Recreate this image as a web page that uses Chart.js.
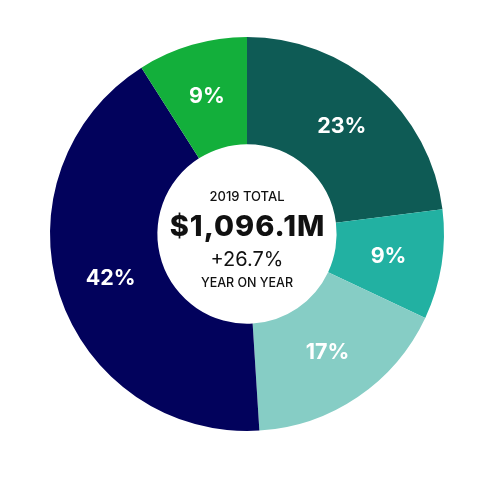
<!DOCTYPE html>
<html>
<head>
<meta charset="utf-8">
<script src="https://cdn.jsdelivr.net/npm/chart.js@4"></script>
<style>
html,body{margin:0;padding:0;background:#fff;}
#wrap{width:480px;height:480px;position:relative;}
</style>
</head>
<body>
<div id="wrap"><canvas id="c" width="480" height="480"></canvas></div>
<script>
const categories = ["Segment A", "Segment B", "Segment C", "Segment D", "Segment E"];
const values = [23, 9, 17, 42, 9];
const valueLabels = ["23%", "9%", "17%", "42%", "9%"];
const colors = ["#0e5b55", "#22b1a2", "#86cdc5", "#02025c", "#13af3b"];
const centerLines = ["2019 TOTAL", "$1,096.1M", "+26.7%", "YEAR ON YEAR"];

const sliceLabels = {
  id: 'sliceLabels',
  afterDatasetsDraw(chart) {
    const ctx = chart.ctx;
    const meta = chart.getDatasetMeta(0);
    ctx.save();
    ctx.fillStyle = '#ffffff';
    ctx.font = '700 21.5px Inter';
    ctx.textAlign = 'center';
    ctx.textBaseline = 'middle';
    meta.data.forEach((arc, i) => {
      const p = arc.tooltipPosition();
      ctx.fillText(valueLabels[i], p.x, p.y);
    });
    ctx.restore();
  }
};

const centerText = {
  id: 'centerText',
  afterDatasetsDraw(chart) {
    const ctx = chart.ctx;
    const arc = chart.getDatasetMeta(0).data[0];
    const cx = arc.x, cy = arc.y;
    ctx.save();
    ctx.fillStyle = '#111111';
    ctx.textAlign = 'center';
    ctx.textBaseline = 'middle';
    ctx.font = '500 13px Inter';
    ctx.fillText(centerLines[0], cx, cy - 37);
    ctx.font = '800 29px Inter';
    ctx.letterSpacing = '1px';
    ctx.fillText(centerLines[1], cx + 0.5, cy - 7);
    ctx.letterSpacing = '0px';
    ctx.font = '400 20px Inter';
    ctx.fillText(centerLines[2], cx, cy + 26);
    ctx.font = '500 12.5px Inter';
    ctx.fillText(centerLines[3], cx, cy + 49);
    ctx.restore();
  }
};

new Chart(document.getElementById('c'), {
  type: 'doughnut',
  data: {
    labels: categories,
    datasets: [{
      data: values,
      backgroundColor: colors,
      borderWidth: 0,
      hoverOffset: 0
    }]
  },
  options: {
    responsive: false,
    animation: false,
    cutout: '45.5%',
    layout: { padding: { left: 50, right: 36, top: 37, bottom: 49 } },
    plugins: {
      legend: { display: false },
      tooltip: { enabled: false }
    }
  },
  plugins: [sliceLabels, centerText]
});
</script>
</body>
</html>
